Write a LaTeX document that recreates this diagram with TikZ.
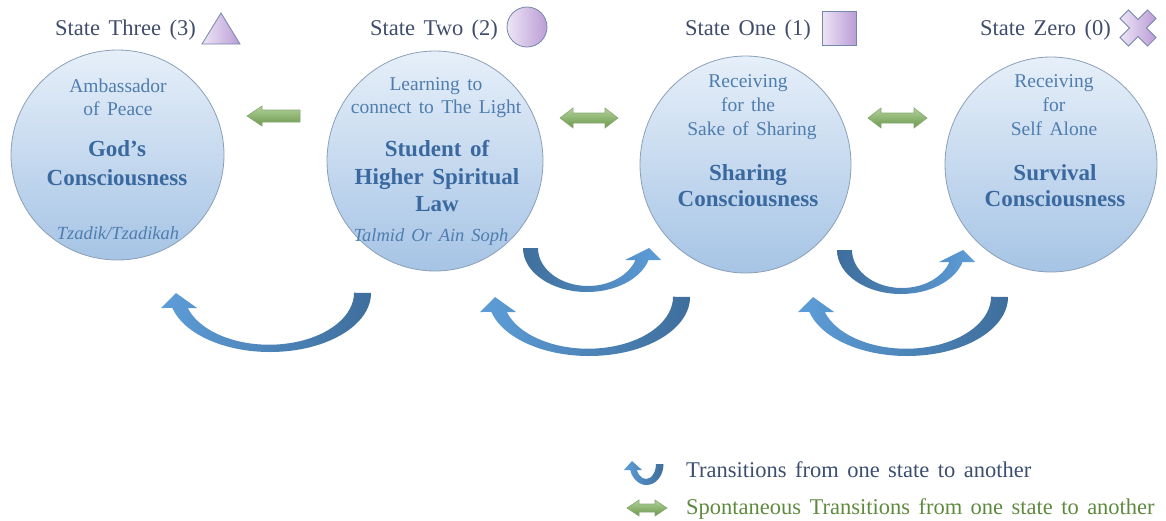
\documentclass[tikz,border=0pt]{standalone}
\usepackage{fontspec}
\setmainfont[WordSpace=1.5]{Liberation Serif}
\usetikzlibrary{shapes.geometric}

\definecolor{titletext}{HTML}{3F4D6B}
\definecolor{circtext}{HTML}{4F7DAE}
\definecolor{boldtext}{HTML}{3A69A0}
\definecolor{circtop}{HTML}{E6EFF9}
\definecolor{circbot}{HTML}{A6C4E5}
\definecolor{circline}{HTML}{8BA0B6}
\definecolor{greentop}{HTML}{B2D29A}
\definecolor{greenbot}{HTML}{6B984C}
\definecolor{greenline}{HTML}{86A873}
\definecolor{bluelight}{HTML}{5D9DD8}
\definecolor{bluedark}{HTML}{3E6E9C}
\definecolor{lavlight}{HTML}{EDE5F5}
\definecolor{lavdark}{HTML}{BB9DD6}
\definecolor{lavline}{HTML}{7586AC}
\definecolor{legendblue}{HTML}{3B4E70}
\definecolor{legendgreen}{HTML}{5E8A3E}

\tikzset{
  state/.style={ellipse, draw=circline, line width=0.8pt,
    top color=circtop, bottom color=circbot, inner sep=0pt},
  title/.style={anchor=base west, inner sep=0pt, text=titletext,
    font=\fontsize{22.5}{27}\selectfont},
  plain/.style={anchor=base, inner sep=0pt, text=circtext,
    font=\fontsize{19.5}{23}\selectfont},
  strong/.style={anchor=base, inner sep=0pt, text=boldtext,
    font=\fontsize{23}{27}\selectfont\bfseries},
  slanted/.style={anchor=base, inner sep=0pt, text=circtext,
    font=\fontsize{18.5}{22}\selectfont\itshape},
  legend/.style={anchor=base west, inner sep=0pt,
    font=\fontsize{22.5}{27}\selectfont},
  icon/.style={draw=lavline, line width=0.8pt, left color=lavlight, right color=lavdark},
  greenarrow/.style={draw=greenline, line width=0.6pt, top color=greentop, bottom color=greenbot},
  % large bent arrow, head on the left, tail on the right
  pics/bendleft/.style={code={
    \shade[left color=bluelight, right color=bluedark]
      (102,0) arc[start angle=0, end angle=-165.3, x radius=101pt, y radius=59pt]
      -- (-108,-15) -- (-93,0) -- (-72,-15) -- (-81.2,-15)
      arc[start angle=-162.9, end angle=0, x radius=85pt, y radius=52pt] -- cycle;
  }},
  % smaller bent arrow, tail on the left, head on the right
  pics/bendright/.style={code={
    \shade[left color=bluedark, right color=bluelight]
      (-65,0) arc[start angle=180, end angle=344.17, x radius=64pt, y radius=44pt]
      -- (73,-12) -- (61,0) -- (37,-12) -- (47.44,-12)
      arc[start angle=341.59, end angle=180, x radius=50pt, y radius=38pt] -- cycle;
  }},
  % legend symbol for a transition
  pics/bendicon/.style={code={
    \shade[left color=bluelight, right color=bluedark]
      (17.5,0) arc[start angle=0, end angle=-163.4, x radius=17pt, y radius=21pt]
      -- (-22,-6) -- (-14,3) -- (-4,-6) -- (-9.17,-6)
      arc[start angle=-156.42, end angle=0, x radius=10pt, y radius=15pt] -- cycle;
  }},
}

\begin{document}
\begin{tikzpicture}[x=1pt, y=1pt]
\useasboundingbox (0,0) rectangle (1166,-520);

% state circles
\node[state, minimum width=213pt, minimum height=210pt] (s3) at (117.5,-155) {};
\node[state, minimum width=216pt, minimum height=220pt] (s2) at (435,-161) {};
\node[state, minimum width=211pt, minimum height=217pt] (s1) at (745.5,-164.5) {};
\node[state, minimum width=212pt, minimum height=215pt] (s0) at (1051,-164.5) {};

% titles with their symbols
\node[title] (h3) at (55,-35) {State Three (3)};
\node[title] (h2) at (370,-35) {State Two (2)};
\node[title] (h1) at (685,-35) {State One (1)};
\node[title] (h0) at (980,-35) {State Zero (0)};
\shade[icon] (202,-44) -- (221,-13) -- (240,-44) -- cycle;
\shade[icon] (527,-27) circle[radius=20pt];
\shade[icon] (822,-11) rectangle (856,-45);
\shade[icon, shift={(1138,-28)}, rotate=45]
  (-6,19.5) -- (6,19.5) -- (6,6) -- (19.5,6) -- (19.5,-6) -- (6,-6) -- (6,-19.5)
  -- (-6,-19.5) -- (-6,-6) -- (-19.5,-6) -- (-19.5,6) -- (-6,6) -- cycle;

% state three
\node[plain]  (s3a) at (118,-92)  {Ambassador};
\node[plain]  (s3b) at (118,-115) {of Peace};
\node[strong] (s3c) at (117,-156) {God’s};
\node[strong] (s3d) at (117,-185) {Consciousness};
\node[slanted] (s3e) at (118,-239) {Tzadik/Tzadikah};

% state two
\node[plain]  (s2a) at (436,-90)  {Learning to};
\node[plain]  (s2b) at (436,-113) {connect to The Light};
\node[strong] (s2c) at (437,-156) {Student of};
\node[strong] (s2d) at (437,-184) {Higher Spiritual};
\node[strong] (s2e) at (437,-211) {Law};
\node[slanted] (s2f) at (431,-241) {Talmid Or Ain Soph};

% state one
\node[plain]  (s1a) at (748,-87)  {Receiving};
\node[plain]  (s1b) at (748,-111) {for the};
\node[plain]  (s1c) at (752,-135) {Sake of Sharing};
\node[strong] (s1d) at (748,-180) {Sharing};
\node[strong] (s1e) at (748,-206) {Consciousness};

% state zero
\node[plain]  (s0a) at (1054,-87)  {Receiving};
\node[plain]  (s0b) at (1054,-111) {for};
\node[plain]  (s0c) at (1054,-135) {Self Alone};
\node[strong] (s0d) at (1055,-180) {Survival};
\node[strong] (s0e) at (1055,-206) {Consciousness};

% spontaneous transitions
\shade[greenarrow] (247,-116) -- (262,-106) -- (262,-110) -- (300,-110)
  -- (300,-122) -- (262,-122) -- (262,-126) -- cycle;
\shade[greenarrow] (560,-118) -- (573,-108) -- (573,-113) -- (605,-113) -- (605,-108)
  -- (618,-118) -- (605,-128) -- (605,-123) -- (573,-123) -- (573,-128) -- cycle;
\shade[greenarrow] (868,-118) -- (881,-108) -- (881,-113) -- (914,-113) -- (914,-108)
  -- (927,-118) -- (914,-128) -- (914,-123) -- (881,-123) -- (881,-128) -- cycle;

% transitions between states
\pic at (269,-293) {bendleft};
\pic at (588,-297) {bendleft};
\pic at (906,-297) {bendleft};
\pic at (588,-248) {bendright};
\pic at (902,-250) {bendright};

% legend
\pic at (646,-464) {bendicon};
\node[legend, text=legendblue] (lg1) at (686,-477) {Transitions from one state to another};
\shade[greenarrow] (627,-508) -- (639,-500) -- (639,-504) -- (655,-504) -- (655,-500)
  -- (667,-508) -- (655,-516) -- (655,-512) -- (639,-512) -- (639,-516) -- cycle;
\node[legend, text=legendgreen] (lg2) at (686,-514) {Spontaneous Transitions from one state to another};
\end{tikzpicture}
\end{document}
